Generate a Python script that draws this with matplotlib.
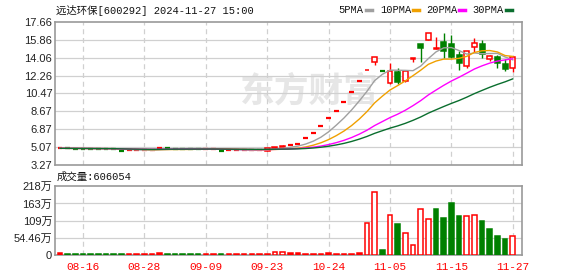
import matplotlib
matplotlib.use('Agg')
import matplotlib.pyplot as plt
import numpy as np
import pandas as pd

# daily K-line data, 60 trading days up to 2024-11-27
opens = [4.95, 4.94, 4.93, 4.92, 4.91, 4.90, 4.89, 4.88, 4.72, 4.73,
         4.74, 4.75, 4.76, 4.95, 4.94, 4.93, 4.92, 4.91, 4.90, 4.91,
         4.92, 4.72, 4.73, 4.74, 4.75, 4.76, 4.77, 4.72, 5.00, 5.12,
         5.28, 5.39, 5.96, 6.52, 7.19, 7.97, 8.75, 9.56, 10.59, 11.72,
         12.78, 13.66, 12.70, 11.49, 12.60, 11.72, 13.98, 15.42, 15.85, 14.95,
         15.62, 15.45, 14.30, 13.28, 15.11, 15.42, 13.97, 14.11, 13.40, 13.00]
highs = [4.95, 4.94, 4.93, 4.92, 4.91, 4.90, 4.89, 4.88, 4.72, 4.73,
         4.74, 4.75, 4.76, 4.95, 4.94, 4.93, 4.92, 4.91, 4.90, 4.91,
         4.92, 4.72, 4.73, 4.74, 4.75, 4.76, 4.77, 4.95, 5.06, 5.30,
         5.28, 5.39, 5.96, 6.52, 7.19, 7.97, 8.75, 9.56, 10.59, 11.72,
         12.80, 14.15, 12.70, 13.50, 13.00, 12.80, 14.00, 15.42, 16.52, 16.20,
         16.52, 16.35, 14.72, 14.72, 16.09, 15.85, 14.30, 14.34, 13.94, 14.11]
lows = [4.95, 4.94, 4.93, 4.92, 4.91, 4.90, 4.89, 4.88, 4.72, 4.73,
        4.74, 4.75, 4.76, 4.95, 4.94, 4.93, 4.92, 4.91, 4.90, 4.91,
        4.92, 4.72, 4.73, 4.74, 4.75, 4.76, 4.77, 4.72, 5.00, 5.12,
        5.28, 5.39, 5.96, 6.52, 7.19, 7.97, 8.75, 9.56, 10.59, 11.72,
        12.78, 13.33, 12.70, 11.45, 11.42, 11.60, 13.67, 13.67, 15.85, 14.90,
        14.01, 14.00, 12.83, 13.00, 14.61, 14.07, 13.74, 13.06, 12.76, 12.66]
closes = [4.95, 4.94, 4.93, 4.92, 4.91, 4.90, 4.89, 4.88, 4.72, 4.73,
          4.74, 4.75, 4.76, 4.95, 4.94, 4.93, 4.92, 4.91, 4.90, 4.91,
          4.92, 4.72, 4.73, 4.74, 4.75, 4.76, 4.77, 4.95, 5.06, 5.18,
          5.28, 5.39, 5.96, 6.52, 7.19, 7.97, 8.75, 9.56, 10.59, 11.72,
          12.80, 14.15, 12.70, 12.73, 11.65, 12.73, 14.00, 15.01, 16.52, 15.00,
          14.77, 14.14, 13.50, 14.72, 15.58, 14.41, 14.24, 13.56, 12.93, 14.11]
# volume in 万 (10k shares)
volumes = [6, 2.5, 2.5, 2.5, 2.5, 2.5, 2.5, 2.5, 2.5, 2.5,
           2.5, 2.5, 2.5, 6, 2.5, 2.5, 2.5, 2.5, 2.5, 2.5,
           2.5, 2.5, 2.5, 2.5, 2.5, 2.5, 2.5, 4, 9, 9,
           5, 5, 3, 3, 3, 6, 3, 3, 3, 5,
           100, 200, 16, 126, 98, 68, 32, 144, 113, 144,
           116, 165, 123, 123, 126, 107, 82, 60, 50, 60.6054]

tick_pos = [3, 11, 19, 27, 35, 43, 51, 59]
tick_dates = ['08-16', '08-28', '09-09', '09-23', '10-24', '11-05', '11-15', '11-27']
price_ticks = [3.27, 5.07, 6.87, 8.67, 10.47, 12.26, 14.06, 15.86, 17.66]
vol_ticks = [0, 54.46, 109, 163, 218]
vol_labels = ['0', '54.46万', '109万', '163万', '218万']

RED = '#ff0000'
GREEN = '#008000'
GRID = '#d0d0d0'
FRAME = '#999999'
MONO_CJK = ['Liberation Mono', 'Noto Sans CJK SC']
SANS_CJK = ['Liberation Sans', 'Noto Sans CJK SC']

df = pd.DataFrame({'o': opens, 'h': highs, 'l': lows, 'c': closes, 'v': volumes})
n = len(df)
x = np.arange(n)
prev = df['c'].shift(1).fillna(df['c'])
up_day = df['c'] >= prev

ma_cfg = [(5, '#a0a0a0'), (10, '#f0a000'), (20, '#ff00ff'), (30, '#0a6e2e')]

W, H = 578, 276
fig = plt.figure(figsize=(W / 100, H / 100), dpi=100)
ax = fig.add_axes([55 / W, 1 - 165 / H, 467 / W, 143 / H])
axv = fig.add_axes([55 / W, 1 - 255 / H, 467 / W, 69 / H])

# watermark, behind the axes
fig.text(240 / W, 1 - 92 / H, '东方财富', fontsize=25, color='#e6e6e6',
         family=SANS_CJK, fontweight='bold', va='center', ha='left', zorder=-1)

for a in (ax, axv):
    a.set_facecolor('none')
    a.set_xlim(-0.65, 60.2)
    for s in a.spines.values():
        s.set_color(FRAME)
        s.set_linewidth(1.2)
    for p in tick_pos:
        a.axvline(p, color=GRID, lw=0.9, ls=(0, (4, 3)), zorder=0)
    a.tick_params(length=0, labelsize=8, colors='#222222')

# price panel
ax.set_ylim(price_ticks[0], price_ticks[-1])
ax.set_yticks(price_ticks)
ax.set_yticklabels(['%.2f' % t for t in price_ticks], family='Liberation Sans')
ax.tick_params(axis='y', pad=2)
ax.set_xticks([])
for t in price_ticks[1:-1]:
    ax.axhline(t, color=GRID, lw=0.9, zorder=0)

body_w = 0.64
for i in range(n):
    o, h, l, c = df.loc[i, ['o', 'h', 'l', 'c']]
    if c > o:
        col = RED
    elif c < o:
        col = GREEN
    else:
        col = RED if up_day[i] else GREEN
    if h > l:
        ax.vlines(x[i], l, h, color=col, lw=1, zorder=2)
    if c > o:
        ax.bar(x[i], c - o, bottom=o, width=body_w, facecolor='white',
               edgecolor=col, lw=1.1, zorder=3)
    elif c < o:
        ax.bar(x[i], o - c, bottom=c, width=body_w, facecolor=col,
               edgecolor=col, lw=1.1, zorder=3)
    else:
        ax.hlines(c, x[i] - body_w / 2, x[i] + body_w / 2, color=col, lw=1.6, zorder=3)

for period, color in ma_cfg:
    ma = df['c'].rolling(period, min_periods=1).mean()
    ax.plot(x, ma, color=color, lw=1, zorder=4)

# volume panel
axv.set_ylim(0, 218)
axv.set_yticks(vol_ticks)
axv.set_yticklabels(vol_labels, family=SANS_CJK)
axv.tick_params(axis='y', pad=2)
for t in vol_ticks[1:-1]:
    axv.axhline(t, color=GRID, lw=0.9, zorder=0)
axv.set_xticks(tick_pos)
axv.set_xticklabels(tick_dates, family='Liberation Mono', color=RED)
axv.tick_params(axis='x', pad=5, labelcolor=RED)

vol_w = 0.6
for i in range(n):
    v = df.loc[i, 'v']
    if up_day[i]:
        hollow = df.loc[i, 'c'] != df.loc[i, 'o']
        axv.bar(x[i], v, width=vol_w, facecolor='white' if hollow else RED,
                edgecolor=RED, lw=1.1, zorder=3)
    else:
        axv.bar(x[i], v, width=vol_w, facecolor=GREEN, edgecolor=GREEN, lw=1.1, zorder=3)

# header texts
fig.text(56 / W, 1 - 10 / H, '远达环保[600292] 2024-11-27 15:00', family=MONO_CJK,
         fontsize=7.5, color='#111111', va='center', ha='left')
legend_items = [('5PMA', 338, 366), ('10PMA', 380, 413), ('20PMA', 426, 459), ('30PMA', 472, 506)]
for (label, tx, dx), (period, color) in zip(legend_items, ma_cfg):
    fig.text(tx / W, 1 - 10 / H, label, family='Liberation Mono', fontsize=7.5,
             color='#111111', va='center', ha='left')
    fig.add_artist(plt.Line2D([dx / W, (dx + 6) / W], [1 - 10 / H, 1 - 10 / H],
                              color=color, lw=2.5, transform=fig.transFigure))

fig.text(57 / W, 1 - 177 / H, '成交量:606054', family=MONO_CJK, fontsize=7.5,
         color='#111111', va='center', ha='left')

fig.savefig('out.png', dpi=100)
